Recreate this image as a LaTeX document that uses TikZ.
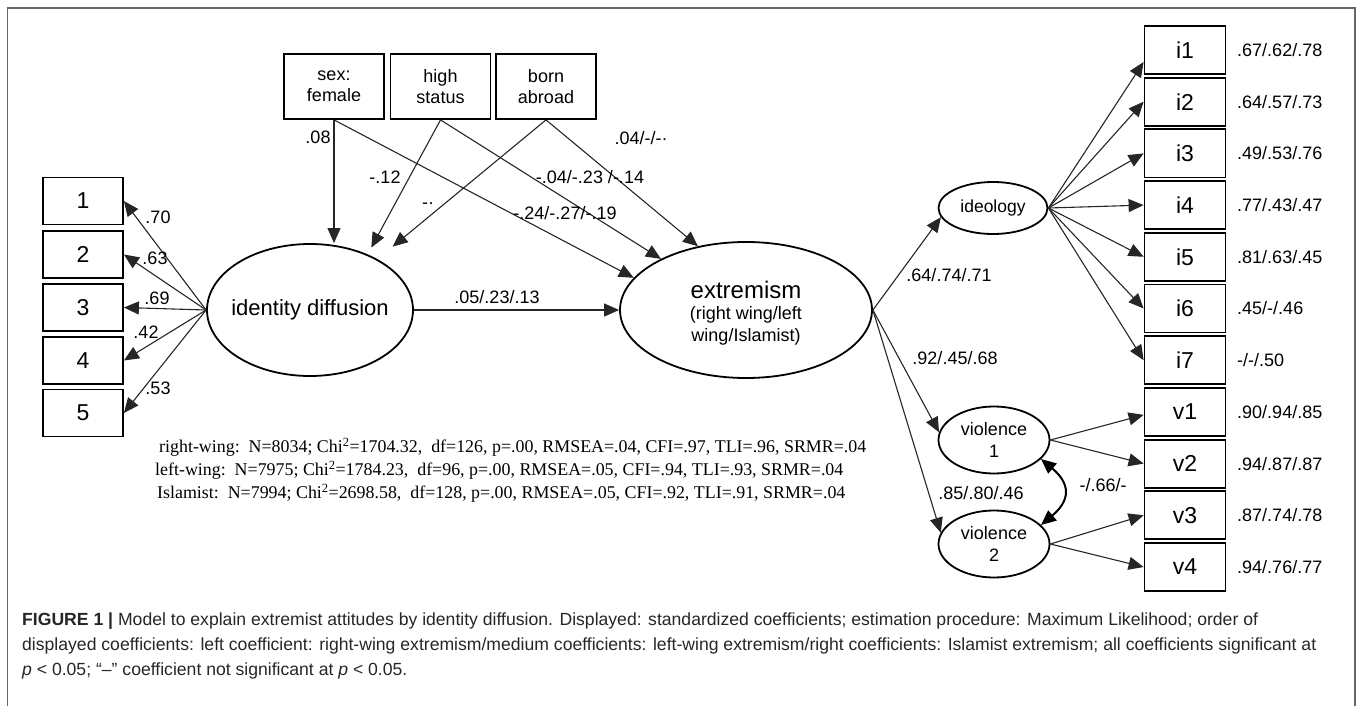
\documentclass[tikz,border=0pt]{standalone}
\usepackage{fontspec}
\setmainfont{Liberation Sans}
\newfontfamily\fitfont{Liberation Serif}
\usetikzlibrary{arrows.meta,shapes.geometric,calc}
\newcommand\fsz[2]{\fontsize{#1}{#2}\selectfont}
\tikzset{
  box/.style={draw=black, line width=1.8pt, minimum width=80pt, minimum height=47pt, inner sep=0pt, font=\fsz{23}{27}},
  rbox/.style={draw=black, line width=1.8pt, minimum width=81pt, minimum height=48pt, inner sep=0pt, font=\fsz{23}{27}},
  topbox/.style={draw=black, line width=1.8pt, minimum width=100pt, minimum height=65pt, inner sep=0pt, align=center, font=\fsz{18}{21}},
  lat/.style={draw=black, ellipse, line width=1.8pt, inner sep=0pt, align=center},
  semtip/.tip={Triangle[length=15pt,width=13pt]},
  arr/.style={-semtip, line width=1.1pt, draw=black!85},
  dbl/.style={semtip-semtip, line width=2pt, draw=black},
  lab/.style={font=\fsz{18}{21}, inner sep=0pt},
  rlab/.style={font=\fsz{18}{21}, inner sep=0pt, anchor=west},
  fitline/.style={font=\fitfont\fsz{17.9}{20}, inner sep=0pt, anchor=west},
  captext/.style={font=\fsz{17.6}{21}, inner sep=0pt, anchor=west, text=black!85},
}
\begin{document}
\begin{tikzpicture}[x=1pt,y=-1pt]
\useasboundingbox (0,0) rectangle (1357,706);
\draw[black!60, line width=1.5pt] (7.5,706) -- (7.5,8) -- (1355,8) -- (1355,706);

% left indicator boxes
\node[box] (b1) at (83,201) {1};
\node[box] (b2) at (83,254.5) {2};
\node[box] (b3) at (83,307.5) {3};
\node[box] (b4) at (83,360.5) {4};
\node[box] (b5) at (83,413) {5};

% identity diffusion
\node[lat, minimum width=206pt, minimum height=132pt] (id) at (310,310) {};
\node[font=\fsz{22}{26}, inner sep=0pt] (idtext) at (id.center) {identity diffusion};

% top covariates
\node[topbox] (sex) at (334,86.5) {sex:\\female};
\node[topbox] (hs) at (440.5,86.5) {high\\status};
\node[topbox] (ba) at (546,86.5) {born\\abroad};

% extremism
\node[lat, minimum width=252pt, minimum height=136pt] (ex) at (746,310) {};
\node[font=\fsz{24}{28}, inner sep=0pt] (extitle) at (746,290) {extremism};
\node[font=\fsz{18}{22}, inner sep=0pt, align=center] (exsub) at (746,326) {(right wing/left\\wing/Islamist)};

% second-order factors
\node[lat, minimum width=109pt, minimum height=52pt, font=\fsz{17.5}{21}] (ideo) at (993,208) {ideology};
\node[lat, minimum width=111pt, minimum height=67pt, font=\fsz{18}{22}] (viol1) at (994,440) {violence\\1};
\node[lat, minimum width=111pt, minimum height=67pt, font=\fsz{18}{22}] (viol2) at (994,544) {violence\\2};

% right indicator boxes
\node[rbox] (i1) at (1185,50) {i1};
\node[rbox] (i2) at (1185,101.7) {i2};
\node[rbox] (i3) at (1185,153.4) {i3};
\node[rbox] (i4) at (1185,205.1) {i4};
\node[rbox] (i5) at (1185,256.8) {i5};
\node[rbox] (i6) at (1185,308.5) {i6};
\node[rbox] (i7) at (1185,360.2) {i7};
\node[rbox] (v1) at (1185,411.9) {v1};
\node[rbox] (v2) at (1185,463.6) {v2};
\node[rbox] (v3) at (1185,515.3) {v3};
\node[rbox] (v4) at (1185,567) {v4};

\node[rlab] (li1) at (1237,50) {.67/.62/.78};
\node[rlab] (li2) at (1237,101.7) {.64/.57/.73};
\node[rlab] (li3) at (1237,153.4) {.49/.53/.76};
\node[rlab] (li4) at (1237,205.1) {.77/.43/.47};
\node[rlab] (li5) at (1237,256.8) {.81/.63/.45};
\node[rlab] (li6) at (1237,308.5) {.45/-/.46};
\node[rlab] (li7) at (1237,360.2) {-/-/.50};
\node[rlab] (lv1) at (1237,411.9) {.90/.94/.85};
\node[rlab] (lv2) at (1237,463.6) {.94/.87/.87};
\node[rlab] (lv3) at (1237,515.3) {.87/.74/.78};
\node[rlab] (lv4) at (1237,567) {.94/.76/.77};

% arrows: identity -> indicators
\foreach \n in {1,...,5} \draw[arr] (id.west) -- (b\n.east);
% covariates
\draw[arr] (sex.south) -- (sex.south |- id.north);
\draw[arr] (sex.south) -- (ex.164.5);
\draw[arr] (hs.south) -- ($(hs.south)!0.95!(id.44)$);
\draw[arr] (hs.south) -- (ex.149);
\draw[arr] (ba.south) -- ($(ba.south)!0.91!(id.37)$);
\draw[arr] (ba.south) -- (ex.127);
% structural
\draw[arr] (id.east) -- (ex.west);
\draw[arr] (ex.east) -- (ideo.190);
\draw[arr] (ex.east) -- (viol1.172);
\draw[arr] (ex.east) -- (viol2.168);
% ideology indicators
\draw[arr] (ideo.east) -- ([yshift=-12pt]i1.west);
\foreach \n in {2,...,7} \draw[arr] (ideo.east) -- (i\n.west);
% violence indicators
\draw[arr] (viol1.east) -- ([yshift=-3pt]v1.west);
\draw[arr] (viol1.east) -- (v2.west);
\draw[arr] (viol2.east) -- (v3.west);
\draw[arr] (viol2.east) -- (v4.west);
\draw[dbl] (viol1.-22) to[out=-40,in=40,looseness=1.5] (viol2.22);

% coefficient labels
\node[lab] (l70) at (158,217) {.70};
\node[lab] (l63) at (155,258) {.63};
\node[lab] (l69) at (157,298) {.69};
\node[lab] (l42) at (146,332) {.42};
\node[lab] (l53) at (158,388) {.53};
\node[lab] (l08) at (318,137) {.08};
\node[lab] (l12) at (385,177) {-.12};
\node[lab] (ldot) at (428,206) {-·};
\node[lab] (l04a) at (590,177) {-.04/-.23 /-.14};
\node[lab] (l24) at (565,213) {-.24/-.27/-.19};
\node[lab] (l04b) at (641,138) {.04/-/-·};
\node[lab] (l05) at (497,297) {.05/.23/.13};
\node[lab] (l64) at (949,275) {.64/.74/.71};
\node[lab] (l92) at (955,358) {.92/.45/.68};
\node[lab] (l85) at (981,493) {.85/.80/.46};
\node[lab] (l66) at (1103,485) {-/.66/-};

% fit statistics
\node[fitline] (fit1) at (159,447) {right-wing:\ \ N=8034; Chi\textsuperscript{2}=1704.32,\ \ df=126, p=.00, RMSEA=.04, CFI=.97, TLI=.96, SRMR=.04};
\node[fitline] (fit2) at (155,470) {left-wing:\ \ N=7975; Chi\textsuperscript{2}=1784.23,\ \ df=96, p=.00, RMSEA=.05, CFI=.94, TLI=.93, SRMR=.04};
\node[fitline] (fit3) at (157,493) {Islamist:\ \ N=7994; Chi\textsuperscript{2}=2698.58,\ \ df=128, p=.00, RMSEA=.05, CFI=.92, TLI=.91, SRMR=.04};

% caption
\node[captext] (cap1) at (22,621) {\textbf{FIGURE 1 |} Model to explain extremist attitudes by identity diffusion. Displayed: standardized coefficients; estimation procedure: Maximum Likelihood; order of};
\node[captext] (cap2) at (22,646) {displayed coefficients: left coefficient: right-wing extremism/medium coefficients: left-wing extremism/right coefficients: Islamist extremism; all coefficients significant at};
\node[captext] (cap3) at (22,671) {\textit{p} < 0.05; “–” coefficient not significant at \textit{p} < 0.05.};
\end{tikzpicture}
\end{document}
